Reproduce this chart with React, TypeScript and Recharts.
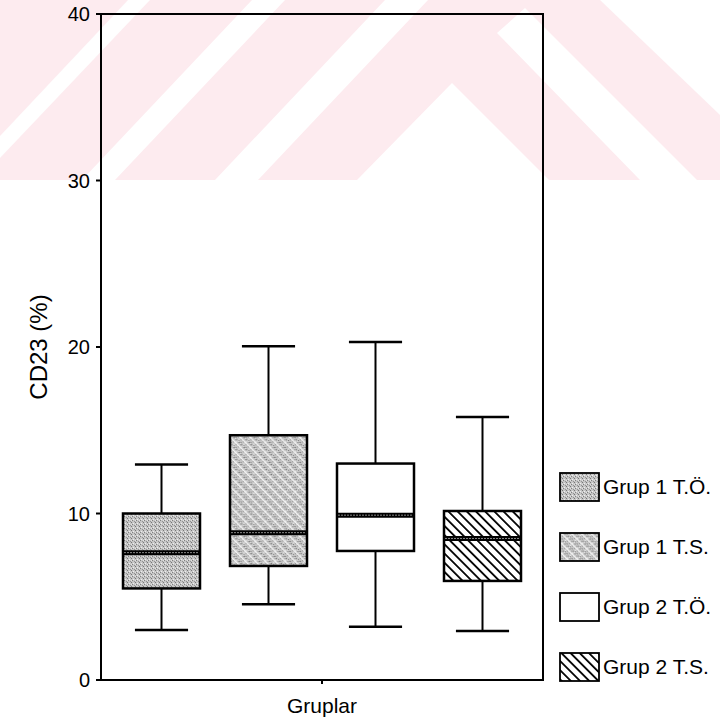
import React from 'react';
import { ComposedChart, Bar, XAxis, YAxis, ReferenceArea } from 'recharts';

const groups = ['Grup 1 T.Ö.', 'Grup 1 T.S.', 'Grup 2 T.Ö.', 'Grup 2 T.S.'];
const mins = [3.0, 4.55, 3.2, 2.95];
const q1s = [5.5, 6.85, 7.75, 5.95];
const medians = [7.65, 8.85, 9.9, 8.5];
const q3s = [10.0, 14.7, 13.0, 10.15];
const maxs = [12.95, 20.05, 20.3, 15.8];
const yTicks = [0, 10, 20, 30, 40];
const fills = ['url(#stipple)', 'url(#stippleHatch)', '#ffffff', 'url(#hatch)'];

const row: Record<string, any> = { name: 'Gruplar' };
groups.forEach((_, i) => {
  row[`s${i}`] = [mins[i], maxs[i]];
});
const data = [row];

const font = 'Arial, "Liberation Sans", sans-serif';

function makeBox(i: number) {
  return (props: any) => {
    const { x, y, width, height } = props;
    const top = Math.min(y, y + height);
    const h = Math.abs(height);
    const k = h / (maxs[i] - mins[i]);
    const py = (v: number) => top + (maxs[i] - v) * k;
    const cx = x + width / 2;
    const cap = width * 0.69;
    const yq3 = py(q3s[i]);
    const yq1 = py(q1s[i]);
    const ymed = py(medians[i]);
    return (
      <g>
        <line x1={cx} x2={cx} y1={py(maxs[i])} y2={yq3} stroke="#000" strokeWidth={2} />
        <line x1={cx} x2={cx} y1={yq1} y2={py(mins[i])} stroke="#000" strokeWidth={2} />
        <line x1={cx - cap / 2} x2={cx + cap / 2} y1={py(maxs[i])} y2={py(maxs[i])} stroke="#000" strokeWidth={2.5} />
        <line x1={cx - cap / 2} x2={cx + cap / 2} y1={py(mins[i])} y2={py(mins[i])} stroke="#000" strokeWidth={2.5} />
        <rect x={x} y={yq3} width={width} height={yq1 - yq3} fill={fills[i]} stroke="#000" strokeWidth={2.5} />
        <line x1={x} x2={x + width} y1={ymed} y2={ymed} stroke="#000" strokeWidth={5} />
        <line x1={x + 1} x2={x + width - 1} y1={ymed} y2={ymed} stroke="#888" strokeWidth={1} strokeDasharray="2 1" />
      </g>
    );
  };
}

function Watermark() {
  return (
    <svg width={720} height={722} style={{ position: 'absolute', left: 0, top: 0 }}>
      <defs>
        <pattern id="stipple" width={4} height={4} patternUnits="userSpaceOnUse">
          <rect width={4} height={4} fill="#c6c6c6" />
          <rect x={0} y={0} width={1} height={1} fill="#808080" />
          <rect x={2} y={1} width={1} height={1} fill="#939393" />
          <rect x={1} y={3} width={1} height={1} fill="#eeeeee" />
          <rect x={3} y={2} width={1} height={1} fill="#777777" />
          <rect x={3} y={0} width={1} height={1} fill="#e2e2e2" />
        </pattern>
        <pattern id="stippleHatch" width={7} height={7} patternUnits="userSpaceOnUse" patternTransform="rotate(-45)">
          <rect width={7} height={7} fill="url(#stipple)" />
          <rect x={0} y={0} width={1.3} height={7} fill="#f2f2f2" />
        </pattern>
        <pattern id="hatch" width={6.5} height={6.5} patternUnits="userSpaceOnUse" patternTransform="rotate(-45)">
          <rect width={6.5} height={6.5} fill="#ffffff" />
          <rect x={0} y={0} width={1.8} height={6.5} fill="#000000" />
        </pattern>
      </defs>
      <rect x={0} y={0} width={720} height={180} fill="#fdebef" />
      <g fill="#ffffff">
        <polygon points="128,0 150,0 0,158 0,136" />
        <polygon points="252,0 285,0 115,180 82,180" />
        <polygon points="385,0 428,0 258,180 215,180" />
        <polygon points="452,83 549,180 357,180" />
        <polygon points="497,33 525,8 697,180 640,180" />
        <polygon points="600,0 720,0 720,115" />
      </g>
    </svg>
  );
}

function LegendBlock() {
  return (
    <div style={{ position: 'absolute', left: 559, top: 472, fontFamily: font, fontSize: 21, color: '#000' }}>
      {groups.map((g, i) => (
        <div key={g} style={{ display: 'flex', alignItems: 'center', height: 30, marginBottom: 30 }}>
          <svg width={42} height={31} style={{ display: 'block' }}>
            <rect x={1} y={1} width={39} height={28} fill={fills[i]} stroke="#000" strokeWidth={1.8} />
          </svg>
          <span style={{ marginLeft: 2, whiteSpace: 'nowrap' }}>{g}</span>
        </div>
      ))}
    </div>
  );
}

export default function App() {
  return (
    <div style={{ position: 'absolute', left: 0, top: 0, width: 720, height: 722, background: '#fff' }}>
      <Watermark />
      <div style={{ position: 'absolute', left: 0, top: 0 }}>
        <ComposedChart
          width={720}
          height={722}
          data={data}
          margin={{ top: 14, right: 177, bottom: 0, left: 0 }}
          barGap={30}
        >
          <XAxis
            dataKey="name"
            height={42}
            tick={() => <g />}
            tickSize={4}
            tickLine={{ stroke: '#000', strokeWidth: 2 }}
            axisLine={{ stroke: '#000', strokeWidth: 2 }}
            label={{ value: 'Gruplar', position: 'insideBottom', offset: 9, fill: '#000', fontSize: 21, fontFamily: font }}
          />
          <YAxis
            width={101}
            domain={[0, 40]}
            ticks={yTicks}
            interval={0}
            tickSize={5}
            tickMargin={6}
            tick={{ fill: '#000', fontSize: 20, fontFamily: font }}
            tickLine={{ stroke: '#000', strokeWidth: 2 }}
            axisLine={{ stroke: '#000', strokeWidth: 2 }}
            label={{
              content: (p: any) => {
                const vb = p.viewBox || {};
                const cy = vb.y + vb.height / 2;
                return (
                  <text
                    x={38}
                    y={cy}
                    transform={`rotate(-90, 38, ${cy})`}
                    textAnchor="middle"
                    dominantBaseline="central"
                    fontSize={24}
                    fontFamily={font}
                    fill="#000"
                  >
                    CD23 (%)
                  </text>
                );
              },
            }}
          />
          <ReferenceArea y1={0} y2={40} fill="none" stroke="#000" strokeWidth={2} ifOverflow="visible" />
          {groups.map((g, i) => (
            <Bar
              key={g}
              dataKey={`s${i}`}
              name={g}
              barSize={77}
              shape={makeBox(i)}
              isAnimationActive={false}
            />
          ))}
        </ComposedChart>
      </div>
      <LegendBlock />
    </div>
  );
}
